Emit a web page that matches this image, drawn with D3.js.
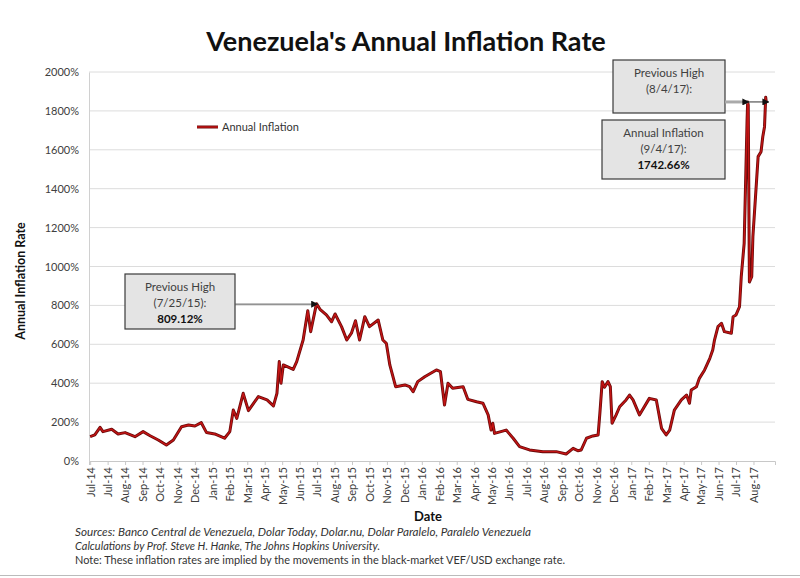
<!DOCTYPE html>
<html>
<head>
<meta charset="utf-8">
<script src="https://cdn.jsdelivr.net/npm/d3@7"></script>
<style>
  html, body { margin: 0; padding: 0; background: #fff; }
  svg { display: block; font-family: Lato, "Open Sans", sans-serif; }
</style>
</head>
<body>
<svg id="chart" width="800" height="578"></svg>
<script>
// ---------- data ----------
const dates = [
  "2014-07-01","2014-07-09","2014-07-18","2014-07-23","2014-08-07","2014-08-18","2014-08-30","2014-09-16",
  "2014-09-30","2014-10-12","2014-10-26","2014-11-09","2014-11-21","2014-12-05","2014-12-17","2014-12-28",
  "2015-01-08","2015-01-17","2015-01-31","2015-02-17","2015-02-26","2015-03-04","2015-03-10","2015-03-21",
  "2015-03-30","2015-04-16","2015-05-01","2015-05-12","2015-05-18","2015-05-22","2015-05-25","2015-05-29",
  "2015-06-15","2015-06-21","2015-07-02","2015-07-10","2015-07-15","2015-07-25","2015-07-31","2015-08-11",
  "2015-08-20","2015-08-26","2015-09-06","2015-09-15","2015-09-23","2015-09-30","2015-10-07","2015-10-16",
  "2015-10-24","2015-11-08","2015-11-16","2015-11-22","2015-11-28","2015-12-08","2015-12-24","2016-01-01",
  "2016-01-07","2016-01-15","2016-01-27","2016-02-16","2016-02-23","2016-03-01","2016-03-07","2016-03-15",
  "2016-04-02","2016-04-10","2016-04-25","2016-05-06","2016-05-15","2016-05-20","2016-05-23","2016-05-26",
  "2016-06-15","2016-06-27","2016-07-08","2016-07-25","2016-08-17","2016-09-09","2016-09-26","2016-10-08",
  "2016-10-16","2016-10-22","2016-10-31","2016-11-11","2016-11-20","2016-11-23","2016-11-27","2016-12-01",
  "2016-12-07","2016-12-11","2016-12-14","2016-12-21","2016-12-27","2017-01-07","2017-01-13","2017-01-19",
  "2017-01-30","2017-02-16","2017-02-28","2017-03-09","2017-03-17","2017-03-23","2017-03-31","2017-04-12",
  "2017-04-21","2017-04-26","2017-04-29","2017-05-08","2017-05-13","2017-05-22","2017-05-31","2017-06-05",
  "2017-06-08","2017-06-14","2017-06-20","2017-06-25","2017-07-07","2017-07-10","2017-07-15","2017-07-21",
  "2017-07-24","2017-07-29","2017-08-03","2017-08-04","2017-08-05","2017-08-07","2017-08-11","2017-08-13",
  "2017-08-19","2017-08-22","2017-08-27","2017-08-30","2017-09-02","2017-09-04","2017-09-05"
];
const inflation = [
  125,134,173,151,163,139,146,125,
  151,130,108,82,108,176,185,180,
  197,146,139,117,151,262,219,348,
  259,331,314,283,348,511,400,494,
  471,511,622,773,665,809,780,751,
  716,756,691,622,657,721,622,742,
  691,725,622,605,494,382,391,382,
  356,408,433,468,459,288,400,374,
  382,317,305,297,237,159,194,142,
  159,117,74,57,48,48,36,65,
  53,57,117,129,134,245,408,379,
  408,382,194,237,279,314,339,314,
  237,322,314,168,134,159,262,314,
  339,297,365,382,425,468,528,571,
  622,691,708,665,657,742,751,793,
  948,1119,1750,1846,1830,920,948,1153,
  1427,1565,1590,1667,1719,1870,1845
];
const tickDates = [
  "2014-07-01","2014-07-31","2014-08-30","2014-09-29","2014-10-29","2014-11-28","2014-12-28","2015-01-27",
  "2015-02-26","2015-03-28","2015-04-27","2015-05-27","2015-06-26","2015-07-26","2015-08-25","2015-09-24",
  "2015-10-24","2015-11-23","2015-12-23","2016-01-22","2016-02-21","2016-03-22","2016-04-21","2016-05-21",
  "2016-06-20","2016-07-20","2016-08-19","2016-09-18","2016-10-18","2016-11-17","2016-12-17","2017-01-16",
  "2017-02-15","2017-03-17","2017-04-16","2017-05-16","2017-06-15","2017-07-15","2017-08-14"
];
const yTicks = [0,200,400,600,800,1000,1200,1400,1600,1800,2000];
const domainStart = "2014-06-29", domainEnd = "2017-09-20";

// annotations
const prevHigh1 = { date: "2015-07-25", value: 809.12, lines: ["Previous High", "(7/25/15):", "809.12%"] };
const prevHigh2 = { date: "2017-08-04", value: 1846, lines: ["Previous High", "(8/4/17):"] };
const latest    = { date: "2017-09-04", value: 1846, lines: ["Annual Inflation", "(9/4/17):", "1742.66%"] };

const title = "Venezuela's Annual Inflation Rate";
const notes = [
  "Sources: Banco Central de Venezuela, Dolar Today, Dolar.nu, Dolar Paralelo, Paralelo Venezuela",
  "Calculations by Prof. Steve H. Hanke, The Johns Hopkins University.",
  "Note: These inflation rates are implied by the movements in the black-market VEF/USD exchange rate."
];

// ---------- drawing ----------
const parse = d3.utcParse("%Y-%m-%d");
const data = dates.map((d, i) => ({ date: parse(d), value: inflation[i] }));

const svg = d3.select("#chart");
const L = 89, R = 775, T = 72, B = 461;

const x = d3.scaleUtc().domain([parse(domainStart), parse(domainEnd)]).range([L, R]);
const y = d3.scaleLinear().domain([0, 2000]).range([B, T]);

// defs: arrow marker
const defs = svg.append("defs");
defs.append("marker").attr("id", "arrow")
  .attr("viewBox", "0 0 10 10").attr("refX", 9).attr("refY", 5)
  .attr("markerWidth", 7).attr("markerHeight", 7).attr("markerUnits", "userSpaceOnUse")
  .attr("orient", "auto")
  .append("path").attr("d", "M0,0 L10,5 L0,10 z").attr("fill", "#111");

// title
svg.append("text").attr("x", 406).attr("y", 51).attr("text-anchor", "middle")
  .attr("font-size", 27).attr("font-weight", "bold").attr("fill", "#111").text(title);

// gridlines
svg.append("g").selectAll("line").data(yTicks.filter(v => v > 0)).join("line")
  .attr("x1", L).attr("x2", R).attr("y1", d => y(d)).attr("y2", d => y(d))
  .attr("stroke", "#dcdcdc").attr("stroke-width", 1);

// y axis
const yAxis = svg.append("g").attr("transform", `translate(${L},0)`)
  .call(d3.axisLeft(y).tickValues(yTicks).tickFormat(d => d + "%").tickSize(0).tickPadding(10));
yAxis.select(".domain").attr("stroke", "#d0d0d0");
yAxis.selectAll("text").attr("font-size", 11).attr("fill", "#404040").attr("font-family", "Lato, sans-serif");

// x axis
const fmt = d3.utcFormat("%b-%y");
const xAxis = svg.append("g").attr("transform", `translate(0,${B})`)
  .call(d3.axisBottom(x).tickValues(tickDates.map(parse)).tickFormat(fmt).tickSize(4));
xAxis.select(".domain").attr("stroke", "#c8c8c8");
xAxis.selectAll(".tick line").attr("stroke", "#c8c8c8");
xAxis.selectAll("text")
  .attr("font-size", 11).attr("fill", "#404040").attr("font-family", "Lato, sans-serif")
  .attr("transform", "rotate(-90)").attr("text-anchor", "end")
  .attr("x", -6).attr("y", 0).attr("dy", "0.35em");

// axis titles
svg.append("text").attr("transform", "translate(25,281) rotate(-90)").attr("text-anchor", "middle")
  .attr("font-size", 12.5).attr("font-weight", "bold").attr("fill", "#111").text("Annual Inflation Rate");
svg.append("text").attr("x", 428).attr("y", 521).attr("text-anchor", "middle")
  .attr("font-size", 13).attr("font-weight", "bold").attr("fill", "#111").text("Date");

// line
const line = d3.line().x(d => x(d.date)).y(d => y(d.value));
svg.append("path").datum(data).attr("d", line).attr("fill", "none")
  .attr("stroke", "#6a0a0a").attr("stroke-width", 3).attr("stroke-linejoin", "round");
svg.append("path").datum(data).attr("d", line).attr("fill", "none")
  .attr("stroke", "#c41414").attr("stroke-width", 1.4).attr("stroke-linejoin", "round");

// legend
svg.append("line").attr("x1", 197).attr("x2", 218).attr("y1", 127).attr("y2", 127)
  .attr("stroke", "#6a0a0a").attr("stroke-width", 3);
svg.append("line").attr("x1", 197).attr("x2", 218).attr("y1", 127).attr("y2", 127)
  .attr("stroke", "#c41414").attr("stroke-width", 1.4);
svg.append("text").attr("x", 222).attr("y", 131).attr("font-size", 11).attr("fill", "#333")
  .text("Annual Inflation");

// annotation boxes
function box(x0, y0, w, h, lines, lineGap, firstY) {
  svg.append("rect").attr("x", x0).attr("y", y0).attr("width", w).attr("height", h)
    .attr("fill", "#e4e4e4").attr("stroke", "#3a3a3a").attr("stroke-width", 1.2);
  lines.forEach((t, i) => {
    svg.append("text").attr("x", x0 + w / 2).attr("y", firstY + i * lineGap)
      .attr("text-anchor", "middle").attr("font-size", 11.5)
      .attr("font-weight", i === 2 ? "bold" : "normal")
      .attr("fill", i === 2 ? "#111" : "#404040").text(t);
  });
}

// box 1
box(125, 274, 110, 55, prevHigh1.lines, 16, 291);
svg.append("line").attr("x1", 235).attr("y1", y(prevHigh1.value) + 0.5)
  .attr("x2", x(parse(prevHigh1.date)) + 1).attr("y2", y(prevHigh1.value) + 0.5)
  .attr("stroke", "#555").attr("stroke-width", 1).attr("marker-end", "url(#arrow)");

// box 2 & 3
box(613, 60, 112, 53, prevHigh2.lines, 15.5, 77);
box(602, 120, 123, 59, latest.lines, 16, 137);
const yHigh = y(prevHigh2.value);
svg.append("line").attr("x1", 725).attr("y1", yHigh).attr("x2", x(parse(prevHigh2.date)))
  .attr("y2", yHigh).attr("stroke", "#aaa").attr("stroke-width", 3);
svg.append("line").attr("x1", x(parse(prevHigh2.date)) - 5).attr("y1", yHigh).attr("x2", x(parse(prevHigh2.date)) + 1)
  .attr("y2", yHigh).attr("stroke", "#111").attr("stroke-width", 1).attr("marker-end", "url(#arrow)");
svg.append("line").attr("x1", x(parse(prevHigh2.date))).attr("y1", yHigh).attr("x2", x(parse(latest.date)) + 3)
  .attr("y2", yHigh).attr("stroke", "#333").attr("stroke-width", 1).attr("marker-end", "url(#arrow)");

// notes
const noteY = [536, 550, 564];
notes.forEach((t, i) => {
  svg.append("text").attr("x", 75).attr("y", noteY[i]).attr("font-size", 11)
    .attr("font-style", i < 2 ? "italic" : "normal").attr("fill", "#333")
    .attr("textLength", [456, 305, 490][i]).attr("lengthAdjust", "spacingAndGlyphs").text(t);
});

// bottom border
svg.append("line").attr("x1", 0).attr("x2", 800).attr("y1", 575.5).attr("y2", 575.5)
  .attr("stroke", "#bbb").attr("stroke-width", 1);
</script>
</body>
</html>
